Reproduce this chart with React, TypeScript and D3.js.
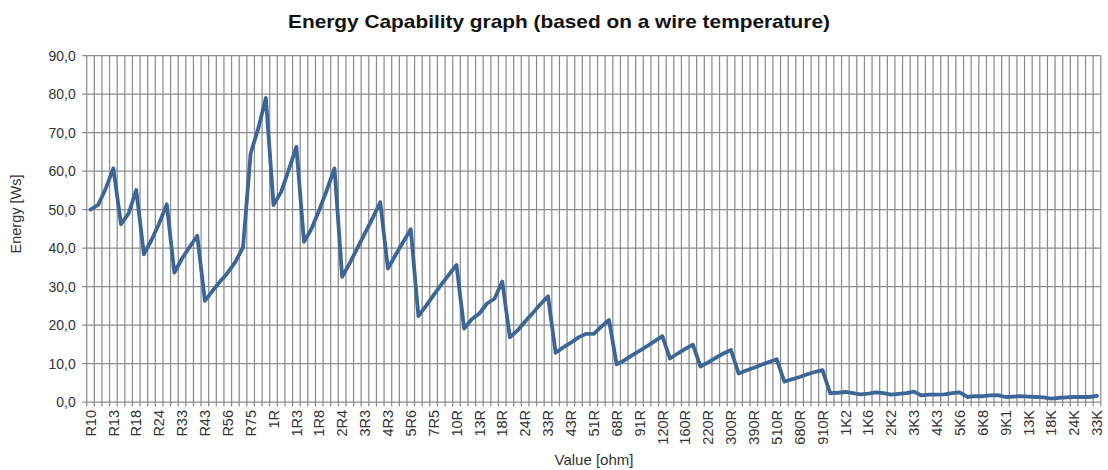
import { useRef, useEffect } from "react";
import * as d3 from "d3";

// resistor values (E24-ish), one per category on the x axis
const categories = [
  "R10", "R11", "R12", "R13", "R15", "R16", "R18", "R20", "R22", "R24", "R27", "R30",
  "R33", "R36", "R39", "R43", "R47", "R51", "R56", "R62", "R68", "R75", "R82", "R91",
  "1R", "1R1", "1R2", "1R3", "1R5", "1R6", "1R8", "2R", "2R2", "2R4", "2R7", "3R",
  "3R3", "3R6", "3R9", "4R3", "4R7", "5R1", "5R6", "6R2", "6R8", "7R5", "8R2", "9R1",
  "10R", "11R", "12R", "13R", "15R", "16R", "18R", "20R", "22R", "24R", "27R", "30R",
  "33R", "36R", "39R", "43R", "47R", "50R", "51R", "56R", "62R", "68R", "75R", "82R", "91R",
  "100R", "110R", "120R", "130R", "150R", "160R", "180R", "200R", "220R", "240R", "270R", "300R",
  "330R", "360R", "390R", "430R", "470R", "510R", "560R", "620R", "680R", "750R", "820R", "910R",
  "1K", "1K1", "1K2", "1K3", "1K5", "1K6", "1K8", "2K", "2K2", "2K4", "2K7", "3K3",
  "3K6", "3K9", "4K3", "4K7", "5K1", "5K6", "6K", "6K2", "6K8", "7K5", "8K2", "9K1",
  "10K", "12K", "13K", "15K", "16K", "18K", "20K", "22K", "24K", "27K", "30K", "33K",
];

// energy [Ws]
const energy = [
  50.0, 51.2, 55.5, 60.7, 46.2, 49.0, 55.1, 38.4, 42.1, 46.4, 51.4, 33.6,
  37.3, 40.3, 43.2, 26.3, 28.9, 31.3, 33.6, 36.4, 40.2, 64.6, 71.1, 79.0,
  51.2, 54.6, 60.3, 66.3, 41.6, 45.1, 49.9, 55.1, 60.7, 32.5, 36.1, 40.0,
  43.9, 47.8, 51.9, 34.7, 38.2, 41.6, 44.9, 22.3, 25.0, 27.8, 30.5, 33.1,
  35.6, 19.1, 21.5, 23.0, 25.6, 26.9, 31.3, 16.8, 18.6, 20.9, 23.1, 25.4,
  27.5, 12.8, 14.2, 15.4, 16.8, 17.7, 17.7, 19.6, 21.3, 9.8, 10.8, 12.1, 13.3,
  14.5, 15.8, 17.1, 11.3, 12.6, 13.8, 14.9, 9.2, 10.3, 11.5, 12.6, 13.5,
  7.4, 8.2, 8.9, 9.7, 10.4, 11.1, 5.3, 5.9, 6.5, 7.2, 7.8, 8.3,
  2.3, 2.4, 2.6, 2.3, 2.0, 2.2, 2.5, 2.3, 1.9, 2.1, 2.3, 2.7,
  1.7, 1.9, 1.9, 2.0, 2.3, 2.5, 1.3, 1.5, 1.5, 1.7, 1.8, 1.3,
  1.4, 1.5, 1.4, 1.3, 1.2, 0.9, 1.1, 1.2, 1.3, 1.3, 1.3, 1.6,
];

const yTicks = [0, 10, 20, 30, 40, 50, 60, 70, 80, 90];

export default function App() {
  const svgRef = useRef<SVGSVGElement>(null);

  useEffect(() => {
    if (!svgRef.current) return;
    const svg = d3.select(svgRef.current);
    svg.selectAll("*").remove();

    const width = 1108;
    const height = 470;
    const margin = { top: 55.7, right: 7.2, bottom: 68, left: 86.7 };
    const font = "'Liberation Sans', Arial, sans-serif";
    const gridColor = "#8c8c8c";

    const x = d3
      .scaleBand<string>()
      .domain(categories)
      .range([margin.left, width - margin.right]);
    const y = d3
      .scaleLinear()
      .domain([0, 90])
      .range([height - margin.bottom, margin.top]);

    const bw = x.bandwidth();
    const bottom = y(0);

    // vertical gridlines on category boundaries (with tick stubs below the axis)
    const bounds = categories.map((c) => x(c)!).concat([x(categories[categories.length - 1])! + bw]);
    svg
      .append("g")
      .selectAll("line")
      .data(bounds)
      .enter()
      .append("line")
      .attr("x1", (d) => d)
      .attr("x2", (d) => d)
      .attr("y1", y(90))
      .attr("y2", bottom + 4.5)
      .attr("stroke", gridColor)
      .attr("stroke-width", 1.25);

    // horizontal gridlines
    svg
      .append("g")
      .selectAll("line")
      .data(yTicks)
      .enter()
      .append("line")
      .attr("x1", margin.left - 4.5)
      .attr("x2", width - margin.right)
      .attr("y1", (d) => y(d))
      .attr("y2", (d) => y(d))
      .attr("stroke", gridColor)
      .attr("stroke-width", 1.25);

    // y tick labels
    svg
      .append("g")
      .selectAll("text")
      .data(yTicks)
      .enter()
      .append("text")
      .attr("x", margin.left - 11)
      .attr("y", (d) => y(d))
      .attr("dy", "0.36em")
      .attr("text-anchor", "end")
      .attr("font-family", font)
      .attr("font-size", "14px")
      .attr("fill", "#333")
      .text((d) => d.toFixed(1).replace(".", ","));

    // x tick labels, every third category
    svg
      .append("g")
      .selectAll("text")
      .data(categories.filter((_, i) => i % 3 === 0))
      .enter()
      .append("text")
      .attr("transform", (d) => `translate(${x(d)! + bw / 2},${bottom + 8}) rotate(-90)`)
      .attr("dy", "0.36em")
      .attr("text-anchor", "end")
      .attr("font-family", font)
      .attr("font-size", "14.5px")
      .attr("fill", "#333")
      .text((d) => d);

    // the energy line
    const line = d3
      .line<number>()
      .x((_, i) => x(categories[i])! + bw / 2)
      .y((d) => y(d));

    svg
      .append("path")
      .datum(energy)
      .attr("d", line)
      .attr("fill", "none")
      .attr("stroke", "#3b6697")
      .attr("stroke-width", 3.8)
      .attr("stroke-linejoin", "round")
      .attr("stroke-linecap", "round");

    // titles
    svg
      .append("text")
      .attr("x", 559)
      .attr("y", 28)
      .attr("text-anchor", "middle")
      .attr("font-family", font)
      .attr("font-size", "19px")
      .attr("font-weight", "bold")
      .attr("fill", "#111")
      .attr("textLength", 542)
      .attr("lengthAdjust", "spacingAndGlyphs")
      .text("Energy Capability graph (based on a wire temperature)");

    svg
      .append("text")
      .attr("transform", `translate(21,214) rotate(-90)`)
      .attr("text-anchor", "middle")
      .attr("font-family", font)
      .attr("font-size", "14.5px")
      .attr("fill", "#333")
      .text("Energy [Ws]");

    svg
      .append("text")
      .attr("x", 594)
      .attr("y", 465)
      .attr("text-anchor", "middle")
      .attr("font-family", font)
      .attr("font-size", "15px")
      .attr("fill", "#333")
      .text("Value [ohm]");
  }, []);

  return (
    <svg
      ref={svgRef}
      width={1108}
      height={470}
      style={{ position: "absolute", left: 0, top: 0, background: "#fff" }}
    />
  );
}
